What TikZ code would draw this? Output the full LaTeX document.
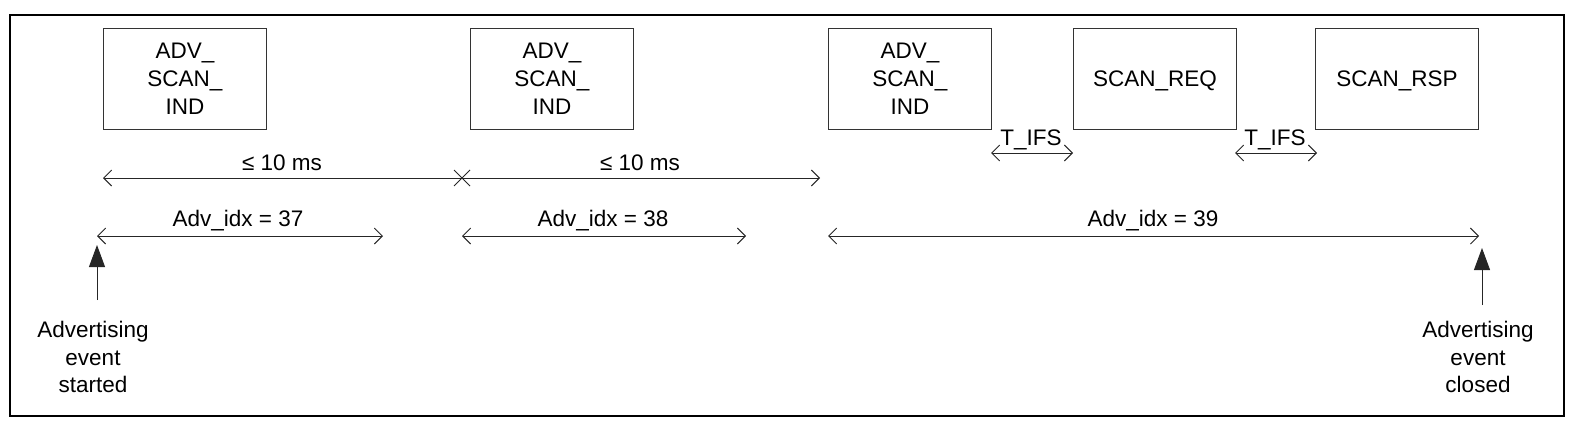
\documentclass[tikz,border=0pt]{standalone}
\usepackage{fontspec}
\setmainfont{Liberation Sans}
\usetikzlibrary{arrows.meta,calc}
\begin{document}
\begin{tikzpicture}[x=1pt,y=-1pt,
  every node/.style={font=\fontsize{22.5}{28}\selectfont, inner sep=0pt},
  pkt/.style={draw=black!80, line width=0.9pt, minimum width=163pt, minimum height=101pt, align=center, anchor=north west},
  dimline/.style={draw=black!85, line width=0.9pt, {Straight Barb[length=8pt,width=16pt]}-{Straight Barb[length=8pt,width=16pt]}},
  uparrow/.style={draw=black!85, line width=0.9pt, -{Triangle[length=22pt,width=16pt]}},
  lbl/.style={anchor=base},
  evt/.style={align=center, anchor=north, font=\fontsize{22.5}{27.5}\selectfont}]
\useasboundingbox (0,0) rectangle (1577,429);
\draw[line width=2pt] (10,15) rectangle (1564,416);
% packet boxes
\node[pkt] (b1) at (103,28) {ADV\_\\SCAN\_\\IND};
\node[pkt] (b2) at (470,28) {ADV\_\\SCAN\_\\IND};
\node[pkt] (b3) at (828,28) {ADV\_\\SCAN\_\\IND};
\node[pkt, text height=16pt, text depth=0pt] (b4) at (1073,28) {SCAN\_REQ};
\node[pkt, text height=16pt, text depth=0pt] (b5) at (1315,28) {SCAN\_RSP};
% interval line
\coordinate (t1a) at (103,178);
\coordinate (t1m) at (462,178);
\coordinate (t1b) at (820,178);
\draw[dimline] (t1a) -- (t1b);
\draw[draw=black!85, line width=0.9pt] ($(t1m)+(-8,-8)$) -- ($(t1m)+(8,8)$) ($(t1m)+(-8,8)$) -- ($(t1m)+(8,-8)$);
\node[lbl] (l1) at (282,170) {≤ 10 ms};
\node[lbl] (l2) at (640,170) {≤ 10 ms};
% T_IFS
\coordinate (f1a) at (991,153);
\coordinate (f1b) at (1073,153);
\coordinate (f2a) at (1235,153);
\coordinate (f2b) at (1317,153);
\draw[dimline] (f1a) -- (f1b);
\draw[dimline] (f2a) -- (f2b);
\node[lbl] (tf1) at (1031,145) {T\_IFS};
\node[lbl] (tf2) at (1275,145) {T\_IFS};
% adv_idx
\coordinate (a1a) at (97,236);
\coordinate (a1b) at (383,236);
\coordinate (a2a) at (462,236);
\coordinate (a2b) at (746,236);
\coordinate (a3a) at (828,236);
\coordinate (a3b) at (1479,236);
\draw[dimline] (a1a) -- (a1b);
\draw[dimline] (a2a) -- (a2b);
\draw[dimline] (a3a) -- (a3b);
\node[lbl] (i1) at (238,226) {Adv\_idx = 37};
\node[lbl] (i2) at (603,226) {Adv\_idx = 38};
\node[lbl] (i3) at (1153,226) {Adv\_idx = 39};
% events
\node[evt] (e1) at (93,321) {Advertising\\event\\started};
\node[evt] (e2) at (1478,321) {Advertising\\event\\closed};
\coordinate (u1) at (97,245);
\coordinate (u2) at (1482,248);
\draw[uparrow] (97,300) -- (u1);
\draw[uparrow] (1482,305) -- (u2);
\end{tikzpicture}
\end{document}
